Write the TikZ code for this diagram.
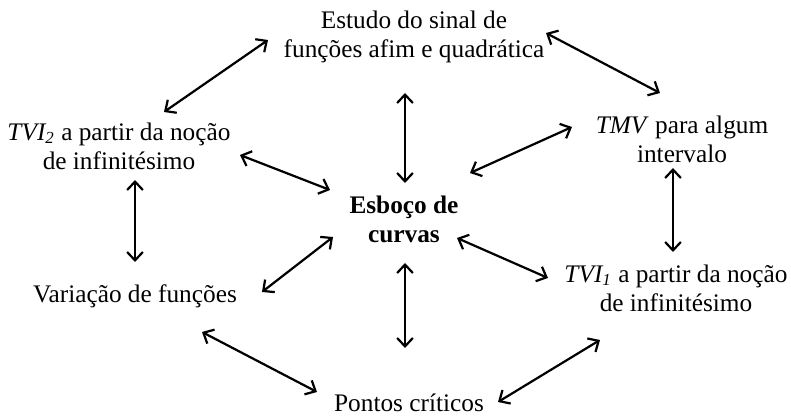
\documentclass[tikz,border=0pt]{standalone}
\usepackage{fontspec}
\setmainfont{Liberation Serif}
\usetikzlibrary{arrows.meta}

\tikzset{
  topic/.style={align=center, inner sep=0pt, font=\fontsize{12}{13.8}\selectfont},
  link/.style={<->, >={Straight Barb[length=4pt, width=7.5pt]}, line width=1.05pt}
}

\begin{document}
\begin{tikzpicture}[x=0.4744pt, y=-0.4744pt]
    \useasboundingbox (0,0) rectangle (791,416);

    % Topics
    \node[topic] (estudo) at (414,37) {Estudo do sinal de\\funções afim e quadrática};
    \node[topic] (tvi2) at (119,146) {\textit{TVI\textsubscript{2}} a partir da noção\\de infinitésimo};
    \node[topic] (tmv) at (682,139) {\textit{TMV} para algum\\intervalo};
    \node[topic, font=\fontsize{12}{13.8}\selectfont\bfseries] (esboco) at (404,219) {Esboço de\\curvas};
    \node[topic] (variacao) at (135,296) {Variação de funções};
    \node[topic] (tvi1) at (676,288) {\textit{TVI\textsubscript{1}} a partir da noção\\de infinitésimo};
    \node[topic] (pontos) at (409,403) {Pontos críticos};

    % Outer ring
    \draw[link] ([shift={(-146,3)}]estudo.center) -- ([shift={(45,-34)}]tvi2.center);
    \draw[link] ([shift={(132,-4)}]estudo.center) -- ([shift={(-22,-46)}]tmv.center);
    \draw[link] ([shift={(16,34)}]tvi2.center) -- ([shift={(0,-34)}]variacao.center);
    \draw[link] ([shift={(-9,29)}]tmv.center) -- ([shift={(-3,-36)}]tvi1.center);
    \draw[link] ([shift={(67,36)}]variacao.center) -- ([shift={(-92,-11)}]pontos.center);
    \draw[link] ([shift={(-76,52)}]tvi1.center) -- ([shift={(89,-1)}]pontos.center);

    % Spokes
    \draw[link] ([shift={(-9,56)}]estudo.center) -- ([shift={(1,-36)}]esboco.center);
    \draw[link] ([shift={(-110,-12)}]tmv.center) -- ([shift={(66,-46)}]esboco.center);
    \draw[link] ([shift={(121,9)}]tvi2.center) -- ([shift={(-74,-29)}]esboco.center);
    \draw[link] ([shift={(-71,18)}]esboco.center) -- ([shift={(127,-4)}]variacao.center);
    \draw[link] ([shift={(53,19)}]esboco.center) -- ([shift={(-128,-10)}]tvi1.center);
    \draw[link] ([shift={(1,44)}]esboco.center) -- ([shift={(-4,-55)}]pontos.center);
\end{tikzpicture}
\end{document}
